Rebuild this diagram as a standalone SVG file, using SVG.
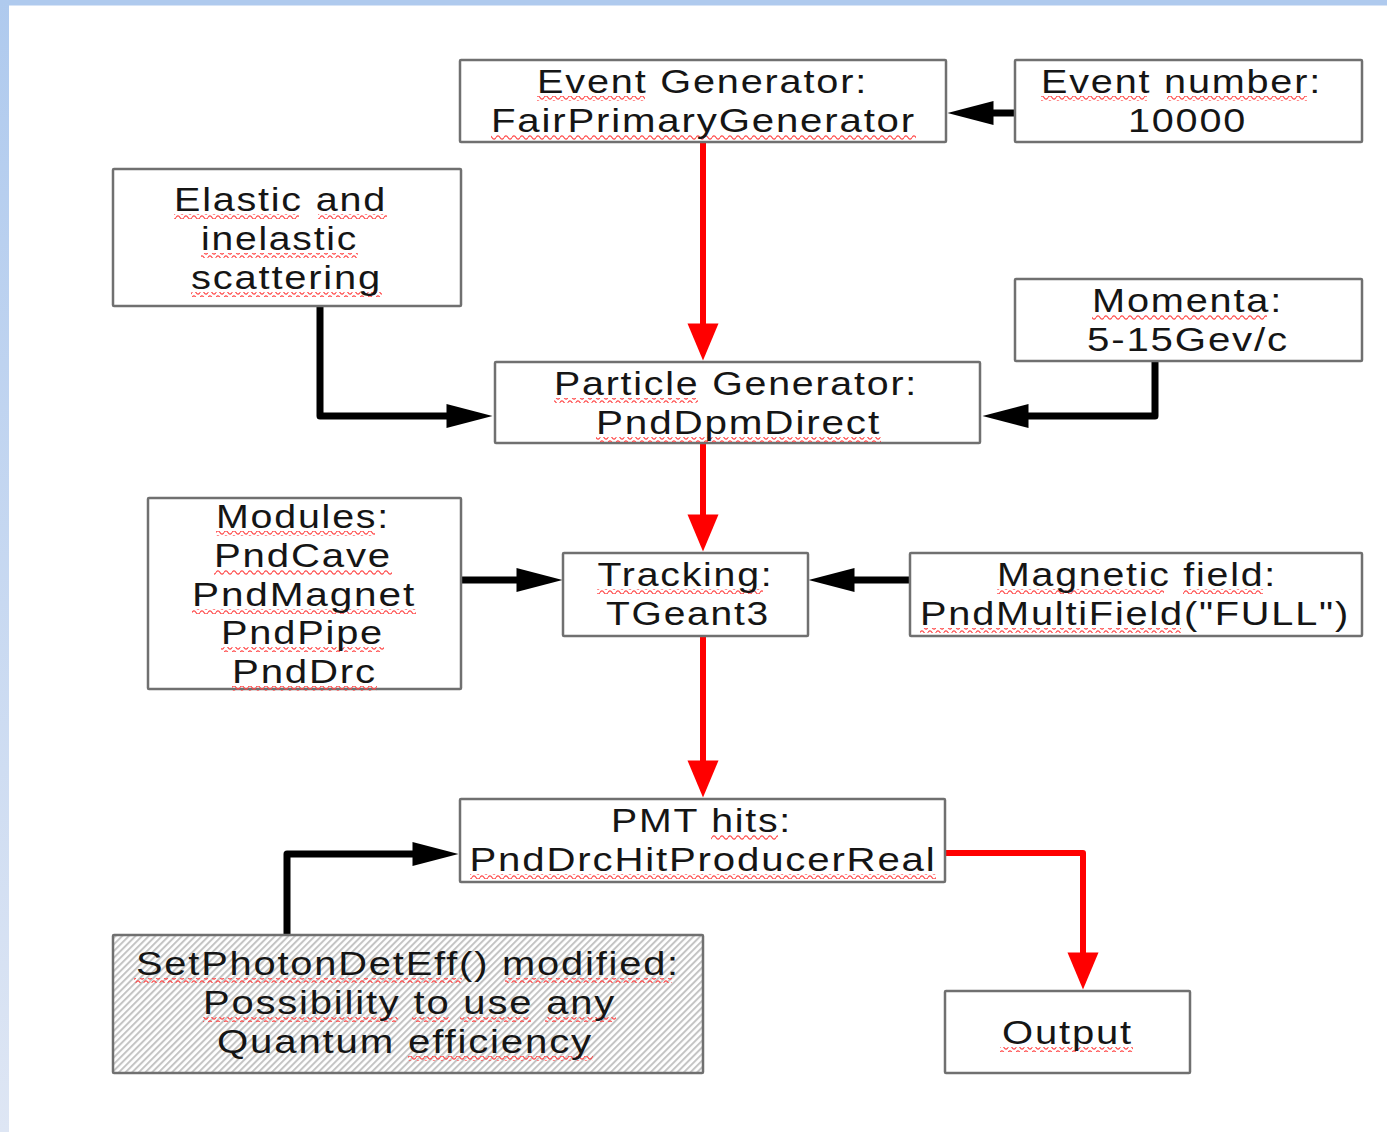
<svg xmlns="http://www.w3.org/2000/svg" width="1387" height="1132" viewBox="0 0 1387 1132">
<defs>
<style>
.box{fill:#fff;stroke:#707070;stroke-width:2.5}
.hatch{fill:url(#hatch);stroke:#707070;stroke-width:2.5}
.t{font-family:"Liberation Sans",Arial,sans-serif;font-size:33px;fill:#151515;text-anchor:middle;letter-spacing:1.5px}
.blk{fill:none;stroke:#000;stroke-width:7;stroke-linejoin:round}
.red{fill:none;stroke:#f00;stroke-width:6;stroke-linejoin:round}
.w{fill:url(#wave)}
</style>
<linearGradient id="side" x1="0" y1="0" x2="0" y2="1">
<stop offset="0" stop-color="#afcaee"/>
<stop offset="1" stop-color="#dee6f4"/>
</linearGradient>
<pattern id="wave" patternUnits="userSpaceOnUse" width="8" height="5">
<path d="M0,2.5 Q2,-0.8 4,2.5 T8,2.5" fill="none" stroke="#f44" stroke-width="1.2"/>
</pattern>
<pattern id="hatch" patternUnits="userSpaceOnUse" width="10" height="4.7" patternTransform="rotate(-45)">
<rect x="0" y="0" width="10" height="4.7" fill="#fff"/>
<rect x="0" y="0" width="10" height="2" fill="#c4c4c4"/>
</pattern>
<marker id="ab" markerUnits="userSpaceOnUse" markerWidth="46" markerHeight="24" refX="0.5" refY="12" orient="auto" overflow="visible">
<path d="M0,0 L46,12 L0,24 z" fill="#000"/>
</marker>
<marker id="ar" markerUnits="userSpaceOnUse" markerWidth="37" markerHeight="31" refX="0.5" refY="15.5" orient="auto" overflow="visible">
<path d="M0,0 L37,15.5 L0,31 z" fill="#f00"/>
</marker>
</defs>

<rect x="0" y="0" width="1387" height="1132" fill="#fff"/>
<rect x="0" y="0" width="1387" height="5.5" fill="#afcaee"/>
<rect x="0" y="0" width="9" height="1132" fill="url(#side)"/>

<g id="connectors">
<path class="blk" d="M1015,113 L993,113" marker-end="url(#ab)"/>
<path class="blk" d="M320,306 L320,416 L447,416" marker-end="url(#ab)"/>
<path class="blk" d="M1155,361 L1155,416 L1028,416" marker-end="url(#ab)"/>
<path class="blk" d="M461,580 L517,580" marker-end="url(#ab)"/>
<path class="blk" d="M910,580 L854,580" marker-end="url(#ab)"/>
<path class="blk" d="M287,935 L287,854 L413,854" marker-end="url(#ab)"/>
<path class="red" d="M703,142 L703,324" marker-end="url(#ar)"/>
<path class="red" d="M703,443 L703,515" marker-end="url(#ar)"/>
<path class="red" d="M703,636 L703,761" marker-end="url(#ar)"/>
<path class="red" d="M945,853 L1083,853 L1083,953" marker-end="url(#ar)"/>
</g>

<g id="event-generator">
<rect class="box" x="460" y="60" width="486" height="82" rx="1"/>
<rect class="w" x="537" y="96" width="108" height="5"/>
<rect class="w" x="491" y="135" width="425" height="5"/>
<text class="t" x="702.5" y="93" textLength="331" lengthAdjust="spacingAndGlyphs">Event Generator:</text>
<text class="t" x="703.5" y="132" textLength="425" lengthAdjust="spacingAndGlyphs">FairPrimaryGenerator</text>
</g>

<g id="event-number">
<rect class="box" x="1015" y="60" width="347" height="82" rx="1"/>
<rect class="w" x="1041" y="96" width="106" height="5"/>
<rect class="w" x="1167" y="96" width="140" height="5"/>
<text class="t" x="1181.5" y="93" textLength="281" lengthAdjust="spacingAndGlyphs">Event number:</text>
<text class="t" x="1187.5" y="132" textLength="119" lengthAdjust="spacingAndGlyphs">10000</text>
</g>

<g id="elastic">
<rect class="box" x="113" y="169" width="348" height="137" rx="1"/>
<rect class="w" x="174" y="214" width="125" height="5"/>
<rect class="w" x="318" y="214" width="69" height="5"/>
<rect class="w" x="201" y="253" width="157" height="5"/>
<rect class="w" x="191" y="292" width="191" height="5"/>
<text class="t" x="280.5" y="211" textLength="213" lengthAdjust="spacingAndGlyphs">Elastic and</text>
<text class="t" x="279.5" y="250" textLength="157" lengthAdjust="spacingAndGlyphs">inelastic</text>
<text class="t" x="286.5" y="289" textLength="191" lengthAdjust="spacingAndGlyphs">scattering</text>
</g>

<g id="momenta">
<rect class="box" x="1015" y="279" width="347" height="82" rx="1"/>
<rect class="w" x="1092" y="315" width="175" height="5"/>
<text class="t" x="1187.5" y="312" textLength="191" lengthAdjust="spacingAndGlyphs">Momenta:</text>
<text class="t" x="1188" y="351" textLength="202" lengthAdjust="spacingAndGlyphs">5-15Gev/c</text>
</g>

<g id="particle-generator">
<rect class="box" x="495" y="362" width="485" height="81" rx="1"/>
<rect class="w" x="554" y="398" width="144" height="5"/>
<rect class="w" x="596" y="437" width="285" height="5"/>
<text class="t" x="736" y="395" textLength="364" lengthAdjust="spacingAndGlyphs">Particle Generator:</text>
<text class="t" x="738.5" y="434" textLength="285" lengthAdjust="spacingAndGlyphs">PndDpmDirect</text>
</g>

<g id="modules">
<rect class="box" x="148" y="498" width="313" height="191" rx="1"/>
<rect class="w" x="216" y="531" width="159" height="5"/>
<rect class="w" x="214" y="570" width="178" height="5"/>
<rect class="w" x="192" y="609" width="224" height="5"/>
<rect class="w" x="221" y="647" width="163" height="5"/>
<rect class="w" x="232" y="686" width="145" height="5"/>
<text class="t" x="303" y="528" textLength="174" lengthAdjust="spacingAndGlyphs">Modules:</text>
<text class="t" x="303" y="567" textLength="178" lengthAdjust="spacingAndGlyphs">PndCave</text>
<text class="t" x="304" y="606" textLength="224" lengthAdjust="spacingAndGlyphs">PndMagnet</text>
<text class="t" x="302.5" y="644" textLength="163" lengthAdjust="spacingAndGlyphs">PndPipe</text>
<text class="t" x="304.5" y="683" textLength="145" lengthAdjust="spacingAndGlyphs">PndDrc</text>
</g>

<g id="tracking">
<rect class="box" x="563" y="553" width="245" height="83" rx="1"/>
<rect class="w" x="597" y="589" width="166" height="5"/>
<text class="t" x="685.5" y="586" textLength="176" lengthAdjust="spacingAndGlyphs">Tracking:</text>
<text class="t" x="688" y="625" textLength="164" lengthAdjust="spacingAndGlyphs">TGeant3</text>
</g>

<g id="magnetic-field">
<rect class="box" x="910" y="553" width="452" height="83" rx="1"/>
<rect class="w" x="997" y="589" width="167" height="5"/>
<rect class="w" x="1183" y="589" width="80" height="5"/>
<rect class="w" x="920" y="628" width="261" height="5"/>
<text class="t" x="1137" y="586" textLength="280" lengthAdjust="spacingAndGlyphs">Magnetic field:</text>
<text class="t" x="1135" y="625" textLength="430" lengthAdjust="spacingAndGlyphs">PndMultiField("FULL")</text>
</g>

<g id="pmt-hits">
<rect class="box" x="460" y="799" width="485" height="83" rx="1"/>
<rect class="w" x="711" y="835" width="67" height="5"/>
<rect class="w" x="470" y="874" width="466" height="5"/>
<text class="t" x="701.5" y="832" textLength="181" lengthAdjust="spacingAndGlyphs">PMT hits:</text>
<text class="t" x="703" y="871" textLength="467" lengthAdjust="spacingAndGlyphs">PndDrcHitProducerReal</text>
</g>

<g id="set-photon-det-eff">
<rect class="hatch" x="113" y="935" width="590" height="138" rx="1"/>
<rect class="w" x="134" y="978" width="328" height="5"/>
<rect class="w" x="505" y="978" width="167" height="5"/>
<rect class="w" x="203" y="1017" width="195" height="5"/>
<rect class="w" x="412" y="1017" width="38" height="5"/>
<rect class="w" x="460" y="1017" width="71" height="5"/>
<rect class="w" x="545" y="1017" width="71" height="5"/>
<rect class="w" x="408" y="1056" width="185" height="5"/>
<text class="t" x="408" y="975" textLength="544" lengthAdjust="spacingAndGlyphs">SetPhotonDetEff() modified:</text>
<text class="t" x="409.5" y="1014" textLength="413" lengthAdjust="spacingAndGlyphs">Possibility to use any</text>
<text class="t" x="405" y="1053" textLength="376" lengthAdjust="spacingAndGlyphs">Quantum efficiency</text>
</g>

<g id="output">
<rect class="box" x="945" y="991" width="245" height="82" rx="1"/>
<rect class="w" x="1000" y="1047" width="133" height="5"/>
<text class="t" x="1067.5" y="1044" textLength="131" lengthAdjust="spacingAndGlyphs">Output</text>
</g>
</svg>
